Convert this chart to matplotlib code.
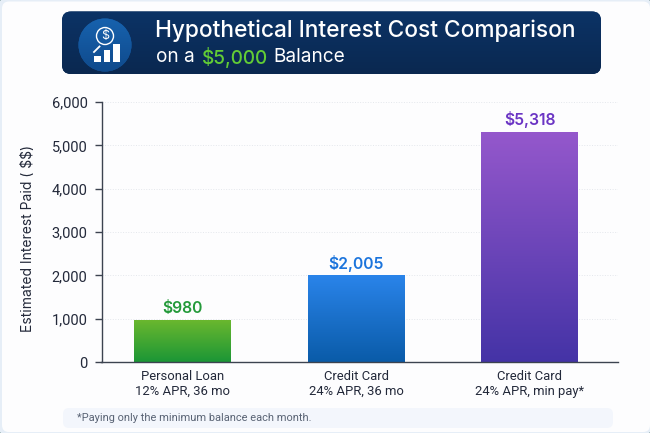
import matplotlib
matplotlib.use("Agg")
import matplotlib.pyplot as plt
import numpy as np
from matplotlib.colors import LinearSegmentedColormap
from matplotlib.patches import Circle, FancyBboxPatch, Rectangle
from matplotlib.ticker import FuncFormatter

plt.rcParams['font.family'] = ['Inter', 'DejaVu Sans']
tick_font = ['Roboto', 'DejaVu Sans']

# data
categories = ["Personal Loan\n12% APR, 36 mo", "Credit Card\n24% APR, 36 mo", "Credit Card\n24% APR, min pay*"]
interest = [980, 2005, 5318]
value_labels = ["\\$980", "\\$2,005", "\\$5,318"]
y_ticks = [0, 1000, 2000, 3000, 4000, 5000, 6000]

bar_tops = ["#6cb82e", "#2a84ea", "#9558cc"]
bar_bottoms = ["#1b9636", "#0a5ba8", "#4433a6"]
label_colors = ["#249a3a", "#1b74dc", "#6b35c4"]

W, H = 650, 433
fig = plt.figure(figsize=(6.5, 4.33), dpi=100, facecolor="#2a5a50")


def gradient_fill(axis, patch, top, bottom, extent):
    cmap = LinearSegmentedColormap.from_list("g", [top, bottom])
    grad = np.linspace(0, 1, 256).reshape(-1, 1)
    img = axis.imshow(grad, cmap=cmap, extent=extent, aspect="auto", zorder=patch.get_zorder())
    img.set_clip_path(patch)


# background layer, in pixel coordinates
bg = fig.add_axes([0, 0, 1, 1])
bg.set_xlim(0, W)
bg.set_ylim(H, 0)
bg.axis("off")
bg.add_patch(FancyBboxPatch((-2, -2), W + 4, H + 4, boxstyle="round,pad=0,rounding_size=9",
                            fc="#e6eef7", ec="none"))
bg.add_patch(FancyBboxPatch((2, 1.5), W - 2, H - 2.5, boxstyle="round,pad=0,rounding_size=7",
                            fc="#fdfdfe", ec="none"))
bg.add_patch(FancyBboxPatch((63, 408), 550, 20, boxstyle="round,pad=0,rounding_size=6",
                            fc="#f3f6fc", ec="none"))
bg.text(77, 418, "*Paying only the minimum balance each month.", fontsize=7.9, color="#5a6475",
        va="center", ha="left", family=tick_font)

# header banner
banner = FancyBboxPatch((62, 11.5), 539, 62.5, boxstyle="round,pad=0,rounding_size=9", fc="#0b2f5e", ec="none")
bg.add_patch(banner)
gradient_fill(bg, banner, "#0c3366", "#0a2850", (62, 601, 74, 11.5))
bg.set_xlim(0, W)
bg.set_ylim(H, 0)

icon = Circle((105, 45), 26.5, fc="#14589f", ec="none", zorder=3)
bg.add_patch(icon)
gradient_fill(bg, icon, "#1762ae", "#0f4a8c", (78, 132, 72, 18))
bg.set_xlim(0, W)
bg.set_ylim(H, 0)
bg.add_patch(Circle((105, 36), 8.5, fc="none", ec="white", lw=1, zorder=4))
bg.text(105, 36.3, "\\$", color="white", fontsize=9, ha="center", va="center", zorder=4)
bg.plot([94, 99.5], [52, 46.5], color="white", lw=1.3, zorder=4)
for x0, h in zip([94, 103.5, 113], [6, 11.5, 17.5]):
    bg.add_patch(Rectangle((x0, 61.7 - h), 6.5, h, fc="white", ec="none", zorder=4))

bg.text(155, 30.5, "Hypothetical Interest Cost Comparison", color="white", fontsize=16.35, fontweight="medium",
        va="center", ha="left", zorder=4)
bg.text(156, 57, "on a", color="white", fontsize=13.7, va="center", ha="left", zorder=4)
bg.text(201.5, 57, "\\$5,000", color="#62cc35", fontsize=13.7, fontweight="medium", va="center", ha="left", zorder=4)
bg.text(273, 57, "Balance", color="white", fontsize=13.7, va="center", ha="left", zorder=4)

# chart
ax = fig.add_axes([101.5 / W, 1 - 362 / H, (618 - 101.5) / W, 260 / H])
ax.patch.set_visible(False)
x = np.arange(len(categories))
bars = ax.bar(x, interest, width=0.555, color=bar_bottoms, zorder=2)
for bar, top, bottom in zip(bars, bar_tops, bar_bottoms):
    gradient_fill(ax, bar, top, bottom,
                  (bar.get_x(), bar.get_x() + bar.get_width(), 0, bar.get_height()))
ax.set_xlim(-0.467, 2.51)
ax.set_ylim(0, 6000)

for xi, val, lab, col in zip(x, interest, value_labels, label_colors):
    ax.text(xi, val + 75, lab, color=col, fontsize=11.3, fontweight="semibold", ha="center", va="bottom")

ax.set_xticks(x)
ax.set_xticklabels(categories, fontsize=9.4, color="#23293a", linespacing=1.15, family=tick_font)
ax.set_yticks(y_ticks)
ax.yaxis.set_major_formatter(FuncFormatter(lambda v, p: f"{int(v):,}"))
ax.tick_params(axis="y", labelsize=10.5, labelcolor="#23293a", length=5, width=1, color="#3c4350", pad=5)
for lab in ax.get_yticklabels():
    lab.set_family(tick_font)
ax.tick_params(axis="x", length=0, pad=6)
ax.set_ylabel("Estimated Interest Paid ( \\$\\$)", fontsize=10, color="#23293a", labelpad=12, y=0.475)
ax.yaxis.grid(True, ls=":", lw=0.7, color="#e4e7ec", zorder=0)
ax.set_axisbelow(True)
for side in ["top", "right"]:
    ax.spines[side].set_visible(False)
for side in ["left", "bottom"]:
    ax.spines[side].set_color("#3c4350")
    ax.spines[side].set_linewidth(1)

fig.savefig("out.png", dpi=100, facecolor=fig.get_facecolor())
